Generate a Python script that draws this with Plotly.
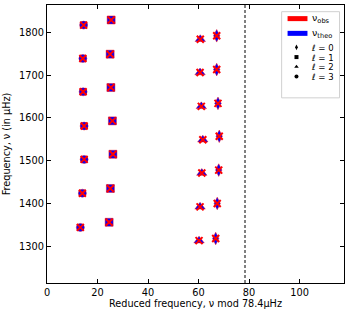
import plotly.graph_objects as go

DNU = 78.4

# l = 0
l0_red = [66.8, 67.4, 68.0, 68.2, 67.7, 67.2, 67.2]
l0_nu = [1318, 1400, 1478, 1557, 1634, 1713, 1792]
# l = 1
l1_red = [24.6, 25.1, 26.1, 25.9, 25.3, 25.0, 25.4]
l1_nu = [1356, 1435, 1515, 1593, 1671, 1749, 1829]
# l = 2
l2_red = [60.2, 60.6, 61.3, 61.7, 61.1, 60.6, 60.7]
l2_nu = [1313, 1392, 1471, 1549, 1627, 1706, 1784]
# l = 3
l3_red = [13.2, 14.0, 14.7, 14.7, 14.3, 14.2, 14.5]
l3_nu = [1344, 1424, 1503, 1581, 1661, 1739, 1817]

degree_labels = ["0", "1", "2", "3"]
series = [
    (l0_red, l0_nu, "diamond-tall", 9),
    (l1_red, l1_nu, "square", 8),
    (l2_red, l2_nu, "triangle-up", 9),
    (l3_red, l3_nu, "circle", 8),
]

fig = go.Figure()

for xr, yn, sym, sz in series:
    fig.add_trace(go.Scatter(x=xr, y=yn, mode="markers", showlegend=False,
                             marker=dict(symbol=sym, size=sz, color="#0000ff",
                                         line=dict(width=1, color="rgba(255,0,0,0.45)"))))
    fig.add_trace(go.Scatter(x=xr, y=yn, mode="markers", showlegend=False,
                             marker=dict(symbol="x-thin", size=7,
                                         line=dict(width=2, color="#ff0000"))))

fig.add_vline(x=DNU, line=dict(color="black", width=1, dash="3px,2px"))

# ---- manual legend (paper coordinates) ----
fig.add_shape(type="rect", xref="paper", yref="paper", x0=0.79, x1=0.985, y0=0.666, y1=0.976,
              line=dict(color="#d0d0d0", width=1), fillcolor="rgba(255,255,255,0.85)",
              layer="below")
leg_line_y = [0.951, 0.898]
leg_line_col = ["#ff0000", "#0000ff"]
leg_line_txt = ["ν<sub>obs</sub>", "ν<sub>theo</sub>"]
for yy, cc, tt in zip(leg_line_y, leg_line_col, leg_line_txt):
    fig.add_shape(type="line", xref="paper", yref="paper", x0=0.810, x1=0.877, y0=yy, y1=yy,
                  line=dict(color=cc, width=5))
    fig.add_annotation(xref="paper", yref="paper", x=0.884, y=yy, text=tt, showarrow=False,
                       xanchor="left", yanchor="middle", font=dict(size=9.5, color="black"))
leg_mark_y = [0.8477, 0.8127, 0.7778, 0.7429]
for yy, (xr, yn, sym, sz), lab in zip(leg_mark_y, series, degree_labels):
    fig.add_trace(go.Scatter(x=[0.840], y=[yy], xaxis="x2", yaxis="y2", mode="markers",
                             showlegend=False, hoverinfo="skip",
                             marker=dict(symbol=sym, size=4, color="black")))
    fig.add_annotation(xref="paper", yref="paper", x=0.884, y=yy, text="<i>ℓ</i> = " + lab,
                       showarrow=False, xanchor="left", yanchor="middle", height=9,
                       borderpad=0, font=dict(size=8.6, color="black"))

axis_common = dict(showgrid=False, zeroline=False, showline=True, linecolor="black",
                   linewidth=1, mirror="ticks", ticks="inside", ticklen=4, tickwidth=1.2,
                   tickcolor="black", tickfont=dict(size=9.8, color="black"), automargin=False)

fig.update_xaxes(range=[0, 1.5 * DNU], tickvals=[0, 20, 40, 60, 80, 100],
                 title=dict(text="Reduced frequency, ν mod 78.4μHz", font=dict(size=9.7, color="black"),
                            standoff=3),
                 **axis_common)
fig.update_yaxes(range=[1214, 1864], tickvals=[1300, 1400, 1500, 1600, 1700, 1800],
                 title=dict(text="Frequency, ν (in μHz)", font=dict(size=9.7, color="black"),
                            standoff=6),
                 **axis_common)

fig.update_layout(
    width=350, height=315,
    margin=dict(l=47, r=6, t=5, b=32),
    plot_bgcolor="white", paper_bgcolor="white",
    font=dict(family="DejaVu Sans", size=9.7, color="black"),
    showlegend=False,
    xaxis2=dict(overlaying="x", range=[0, 1], visible=False, domain=[0, 1]),
    yaxis2=dict(overlaying="y", range=[0, 1], visible=False, domain=[0, 1]),
)

fig.write_html("out.html", config={"displayModeBar": False},
               post_script="document.body.style.margin='0';")
